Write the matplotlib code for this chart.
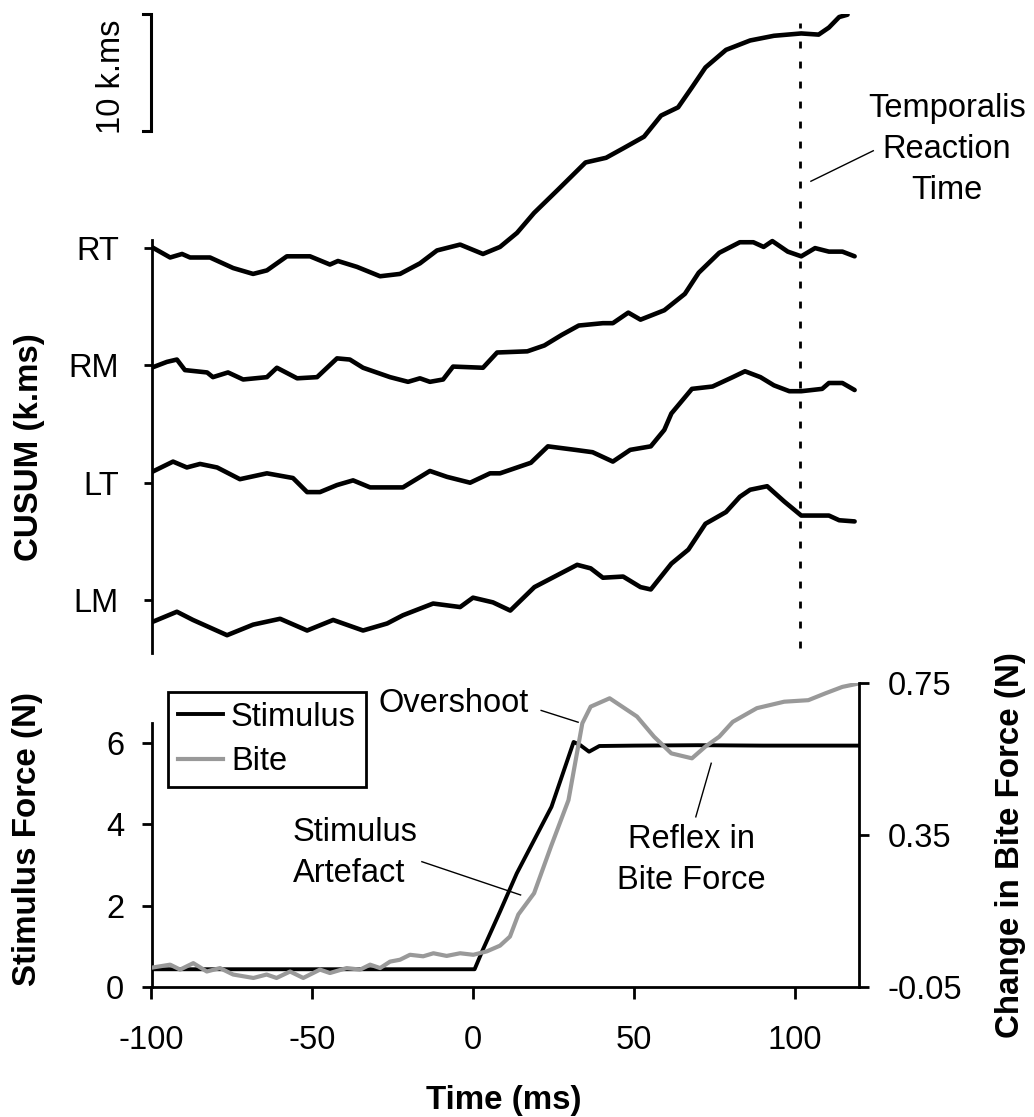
import matplotlib
matplotlib.use("Agg")
import matplotlib.pyplot as plt

plt.rcParams['font.family'] = ['Liberation Sans', 'DejaVu Sans']
plt.rcParams['axes.unicode_minus'] = False

# ---------------- data ----------------
# CUSUM traces (time in ms, CUSUM in k.ms, each trace offset by 10 k.ms)
rt_t = [-100, -94.2, -90.5, -88.0, -81.8, -74.6, -68.4, -64.1, -57.9, -50.7, -44.5, -42.0, -36.1,
        -28.9, -22.7, -16.5, -11.2, -4.0, 3.1, 8.4, 13.7, 19.0, 26.5, 35.0, 41.4, 46.7, 53.2, 58.5,
        63.8, 68.1, 72.3, 78.7, 86.2, 93.6, 102.1, 107.5, 110.7, 113.9, 116.5]
rt_v = [30.1, 29.2, 29.5, 29.2, 29.2, 28.3, 27.8, 28.1, 29.3, 29.3, 28.6, 28.9, 28.4,
        27.6, 27.8, 28.7, 29.8, 30.3, 29.5, 30.1, 31.3, 33.0, 35.0, 37.3, 37.7, 38.5, 39.5, 41.3,
        42.0, 43.7, 45.4, 46.9, 47.7, 48.1, 48.3, 48.2, 48.8, 49.7, 49.9]

rm_t = [-100, -95.2, -92.1, -89.6, -82.7, -80.9, -76.2, -71.5, -64.1, -61.0, -54.7, -48.5, -42.3,
        -38.3, -34.2, -25.8, -20.2, -16.5, -13.4, -9.3, -6.2, 3.1, 7.5, 16.9, 22.2, 27.6, 32.9,
        40.4, 43.5, 48.3, 52.1, 59.5, 65.9, 70.2, 76.6, 83.0, 87.2, 90.4, 93.1, 97.9, 102.1,
        106.4, 110.7, 114.9, 118.7]
rm_v = [19.8, 20.3, 20.5, 19.6, 19.4, 19.0, 19.4, 18.8, 19.0, 19.8, 18.9, 19.0, 20.6,
        20.5, 19.8, 19.0, 18.6, 18.9, 18.6, 18.8, 19.9, 19.8, 21.1, 21.2, 21.7, 22.6, 23.4,
        23.6, 23.6, 24.5, 23.9, 24.7, 26.1, 27.9, 29.6, 30.5, 30.5, 30.1, 30.6, 29.7, 29.3,
        30.0, 29.7, 29.7, 29.3]

lt_t = [-100, -93.3, -89.0, -84.9, -79.6, -72.5, -64.1, -56.0, -51.6, -47.6, -42.3, -37.3, -32.0,
        -21.8, -13.4, -8.1, -0.9, 5.3, 8.4, 18.0, 23.3, 31.8, 37.2, 43.5, 48.9, 55.3, 59.5, 61.7,
        68.1, 74.5, 80.8, 84.6, 89.4, 93.6, 98.4, 102.1, 108.6, 110.7, 114.9, 118.7]
lt_v = [10.9, 11.8, 11.3, 11.6, 11.3, 10.3, 10.8, 10.4, 9.2, 9.2, 9.8, 10.2, 9.6,
        9.6, 11.0, 10.5, 10.0, 10.8, 10.8, 11.7, 13.1, 12.8, 12.6, 11.8, 12.8, 13.1, 14.5, 15.9,
        18.0, 18.2, 19.0, 19.5, 19.0, 18.3, 17.8, 17.8, 18.0, 18.5, 18.5, 17.9]

lm_t = [-100, -92.1, -87.1, -76.5, -68.4, -60.0, -51.6, -43.5, -34.2, -26.7, -21.8, -12.4, -4.0,
        0.0, 6.2, 11.6, 19.1, 25.4, 32.4, 36.6, 40.4, 46.7, 52.1, 55.3, 61.7, 67.0, 72.3, 78.7,
        83.0, 86.2, 91.5, 96.8, 102.1, 110.7, 113.9, 118.7]
lm_v = [-1.9, -1.0, -1.7, -3.0, -2.1, -1.6, -2.6, -1.7, -2.6, -2.0, -1.3, -0.3, -0.6,
        0.2, -0.2, -0.9, 1.1, 2.0, 3.0, 2.7, 1.9, 2.0, 1.1, 0.9, 3.1, 4.3, 6.5, 7.5,
        8.8, 9.4, 9.7, 8.4, 7.2, 7.2, 6.8, 6.7]

cusum_labels = ['LM', 'LT', 'RM', 'RT']
cusum_offsets = [0, 10, 20, 30]
reaction_time = 101.7          # ms, temporalis reaction time
scale_bar_top = 50             # k.ms
scale_bar_len = 10             # k.ms

# Stimulus force (N) and change in bite force (N)
stim_t = [-100, 0.5, 3.0, 6.3, 8.4, 13.6, 19.0, 24.4, 31.3, 33.4, 36.1, 39.3, 50, 70, 90, 120]
stim_v = [0.43, 0.43, 0.9, 1.48, 1.85, 2.79, 3.61, 4.43, 6.03, 5.95, 5.79, 5.93, 5.94, 5.95, 5.94, 5.94]

bite_t = [-100, -94.2, -91.1, -87.0, -82.8, -78.7, -74.6, -68.3, -64.2, -61.1, -56.9, -52.8,
          -47.6, -44.5, -39.3, -35.1, -32.0, -28.9, -25.8, -22.7, -19.6, -15.5, -12.3, -8.2,
          -4.0, 0.1, 4.3, 8.4, 11.5, 14.1, 19.0, 24.3, 29.7, 34.0, 36.6, 42.5, 51.0, 56.3,
          61.7, 68.1, 72.3, 76.6, 80.8, 88.3, 96.8, 104.3, 109.6, 114.9, 120.0]
bite_v = [0.0, 0.008, -0.005, 0.012, -0.010, -0.001, -0.018, -0.027, -0.018, -0.027, -0.010, -0.027,
          -0.005, -0.014, -0.001, -0.005, 0.008, -0.001, 0.016, 0.021, 0.034, 0.030, 0.038, 0.031,
          0.038, 0.034, 0.043, 0.058, 0.082, 0.140, 0.196, 0.32, 0.441, 0.643, 0.687, 0.709, 0.661, 0.608,
          0.564, 0.551, 0.582, 0.608, 0.647, 0.683, 0.700, 0.704, 0.722, 0.739, 0.748]

x_ticks = [-100, -50, 0, 50, 100]
x_ticklabels = ['-100', '-50', '0', '50', '100']
left_ticks = [0, 2, 4, 6]
right_ticks = [-0.05, 0.35, 0.75]
right_ticklabels = ['-0.05', '0.35', '0.75']

# ---------------- figure ----------------
W, H = 1034, 1117
fig = plt.figure(figsize=(W / 100, H / 100), dpi=100)


def px_rect(x0, y0, x1, y1):
    return [x0 / W, 1 - y1 / H, (x1 - x0) / W, (y1 - y0) / H]


FS = 23.5
FSB = 23.9
LS = 1.43
GRAY = '#999999'

ax_top = fig.add_axes(px_rect(151.5, 13.5, 858.8, 652.8))
ax_bot = fig.add_axes(px_rect(151.5, 682.7, 858.8, 986.7))

# ---- top panel: CUSUM ----
for t, v in [(rt_t, rt_v), (rm_t, rm_v), (lt_t, lt_v), (lm_t, lm_v)]:
    ax_top.plot(t, v, color='black', lw=3.3, solid_joinstyle='round', solid_capstyle='round')

ax_top.set_xlim(-100, 120)
ax_top.set_ylim(-4.5, 50)
ax_top.patch.set_visible(False)
for s in ['top', 'right', 'bottom']:
    ax_top.spines[s].set_visible(False)
ax_top.spines['left'].set_bounds(-4.5, 30.7)
ax_top.spines['left'].set_linewidth(2)
ax_top.set_yticks(cusum_offsets, cusum_labels)
ax_top.tick_params(axis='y', direction='out', length=5.5, width=2, pad=18, labelsize=FS)
ax_top.tick_params(axis='x', bottom=False, labelbottom=False)

ax_top.plot([reaction_time, reaction_time], [-4.1, 49.2], color='black', lw=2,
            dashes=(2.5, 4.7), clip_on=False)

# scale bar
sb_bot = scale_bar_top - scale_bar_len
ax_top.plot([-102.5, -100, -100, -102.5], [sb_bot, sb_bot, scale_bar_top, scale_bar_top],
            color='black', lw=2.2, clip_on=False, solid_joinstyle='miter')
ax_top.text(-112.3, (sb_bot + scale_bar_top) / 2 - 0.4, '10 k.ms', rotation=90, ha='center',
            va='center', fontsize=FS, clip_on=False)

ax_top.text(147.4, 38.4, 'Temporalis\nReaction\nTime', ha='center', va='center',
            multialignment='center', fontsize=FS, linespacing=LS, clip_on=False)
ax_top.plot([105.1, 124.5], [35.7, 38.3], color='black', lw=1.0, clip_on=False)

# ---- bottom panel ----
ax_bot.plot(stim_t, stim_v, color='black', lw=2.8, label='Stimulus')
ax_r = ax_bot.twinx()
ax_r.set_position(ax_bot.get_position())
ax_r.plot(bite_t, bite_v, color=GRAY, lw=3.0, label='Bite')

ax_bot.set_xlim(-100, 120)
ax_bot.set_ylim(0, 7.49)
ax_r.set_ylim(-0.05, 0.75)
ax_bot.set_xticks(x_ticks, x_ticklabels)
ax_bot.set_yticks(left_ticks, [str(v) for v in left_ticks])
ax_r.set_yticks(right_ticks, right_ticklabels)

for s in ['top', 'right']:
    ax_bot.spines[s].set_visible(False)
for s in ['top', 'left', 'bottom']:
    ax_r.spines[s].set_visible(False)
ax_bot.spines['left'].set_bounds(0, 6.5)
for sp in [ax_bot.spines['left'], ax_bot.spines['bottom'], ax_r.spines['right']]:
    sp.set_linewidth(2)

ax_bot.tick_params(axis='x', direction='out', length=8.4, width=2, pad=19, labelsize=FS)
ax_bot.tick_params(axis='y', direction='out', length=7.2, width=2, pad=12.5, labelsize=FS)
ax_r.tick_params(axis='y', direction='out', length=7.4, width=2, pad=13.5, labelsize=FS)

h1, l1 = ax_bot.get_legend_handles_labels()
h2, l2 = ax_r.get_legend_handles_labels()
leg = ax_r.legend(h1 + h2, l1 + l2, loc='upper left', bbox_to_anchor=(168 / W, 1 - 692 / H),
                  bbox_transform=fig.transFigure, borderaxespad=0, fontsize=FS,
                  fancybox=False, framealpha=1, edgecolor='black', handlelength=1.38,
                  handletextpad=0.25, borderpad=0.3, labelspacing=0.42)
leg.get_frame().set_linewidth(2)

# annotations
ax_r.text(-29.5, 0.696, 'Overshoot', ha='left', va='center', fontsize=FS)
ax_r.plot([21.2, 32.7], [0.677, 0.646], color='black', lw=1.0)
ax_bot.text(-56.1, 3.29, 'Stimulus\nArtefact', ha='left', va='center', fontsize=FS, linespacing=LS)
ax_bot.plot([-15.9, 14.8], [3.08, 2.26], color='black', lw=1.0)
ax_r.text(68.0, 0.283, 'Reflex in\nBite Force', ha='center', va='center', multialignment='center',
          fontsize=FS, linespacing=LS)
ax_r.plot([69.3, 74.1], [0.397, 0.538], color='black', lw=1.0)

# axis labels
fig.text(30 / W, 1 - 447 / H, 'CUSUM (k.ms)', rotation=90, ha='center', va='center',
         fontsize=FSB, fontweight='bold')
fig.text(28 / W, 1 - 839 / H, 'Stimulus Force (N)', rotation=90, ha='center', va='center',
         fontsize=FSB, fontweight='bold')
fig.text(1010 / W, 1 - 845 / H, 'Change in Bite Force (N)', rotation=90, ha='center', va='center',
         fontsize=FSB, fontweight='bold')
fig.text(503.6 / W, 1 - 1101 / H, 'Time (ms)', ha='center', va='center',
         fontsize=FSB, fontweight='bold')

fig.savefig('out.png', dpi=100)
